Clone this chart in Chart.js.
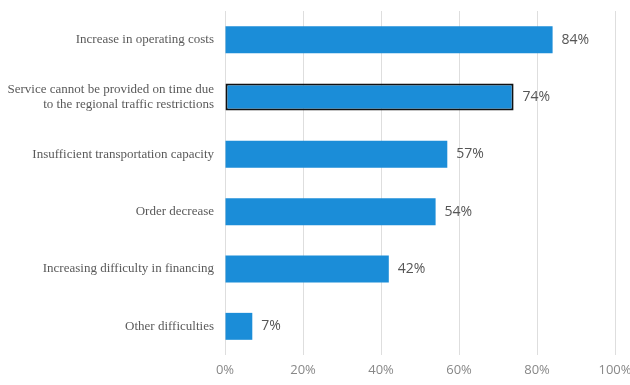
<!DOCTYPE html>
<html>
<head>
<meta charset="utf-8">
<script src="https://cdn.jsdelivr.net/npm/chart.js@4/dist/chart.umd.min.js"></script>
<style>
  html, body { margin: 0; padding: 0; background: #fff; }
  #wrap { width: 630px; height: 385px; }
</style>
</head>
<body>
<div id="wrap"><canvas id="chart"></canvas></div>
<script>
// Data
const categories = [
  'Increase in operating costs',
  ['Service cannot be provided on time due', 'to the regional traffic restrictions'],
  'Insufficient transportation capacity',
  'Order decrease',
  'Increasing difficulty in financing',
  'Other difficulties'
];
const shares = [84, 74, 57, 54, 42, 7];
const xTicks = [0, 20, 40, 60, 80, 100];

// Value labels drawn to the right of each bar
const valueLabels = {
  id: 'valueLabels',
  afterDatasetsDraw(chart) {
    const ctx = chart.ctx;
    const meta = chart.getDatasetMeta(0);
    ctx.save();
    ctx.font = '14px "Open Sans", sans-serif';
    ctx.fillStyle = '#555';
    ctx.textAlign = 'left';
    ctx.textBaseline = 'middle';
    meta.data.forEach((bar, i) => {
      ctx.fillText(shares[i] + '%', bar.x + 9, bar.y);
    });
    ctx.restore();
  }
};

new Chart(document.getElementById('chart'), {
  type: 'bar',
  data: {
    labels: categories,
    datasets: [{
      data: shares,
      backgroundColor: '#1b8dd8',
      borderColor: shares.map((v, i) => i === 1 ? '#111' : 'rgba(0,0,0,0)'),
      borderWidth: shares.map((v, i) => i === 1 ? 2 : 0),
      borderSkipped: false,
      barPercentage: 0.47,
      categoryPercentage: 1
    }]
  },
  options: {
    indexAxis: 'y',
    responsive: true,
    maintainAspectRatio: false,
    animation: false,
    layout: { padding: { top: 11, right: 15, left: 0, bottom: 0 } },
    plugins: {
      legend: { display: false },
      tooltip: { enabled: false }
    },
    scales: {
      x: {
        min: 0,
        max: 100,
        afterBuildTicks: (scale) => { scale.ticks = xTicks.map(v => ({ value: v })); },
        afterFit: (scale) => {
          scale.height = 30;
          scale.paddingLeft = 0;
          scale.paddingRight = 0;
        },
        ticks: {
          callback: (v) => v + '%',
          color: '#888',
          font: { family: 'Open Sans', size: 13 },
          padding: 7
        },
        grid: { color: '#dedede', drawTicks: false },
        border: { display: false }
      },
      y: {
        afterFit: (scale) => {
          scale.width = 225;
          scale.paddingTop = 0;
          scale.paddingBottom = 0;
        },
        ticks: {
          color: '#5a5a5a',
          font: { family: 'Liberation Serif', size: 13 },
          padding: 11
        },
        grid: { display: false, drawTicks: false },
        border: { display: false }
      }
    }
  },
  plugins: [valueLabels]
});
</script>
</body>
</html>
